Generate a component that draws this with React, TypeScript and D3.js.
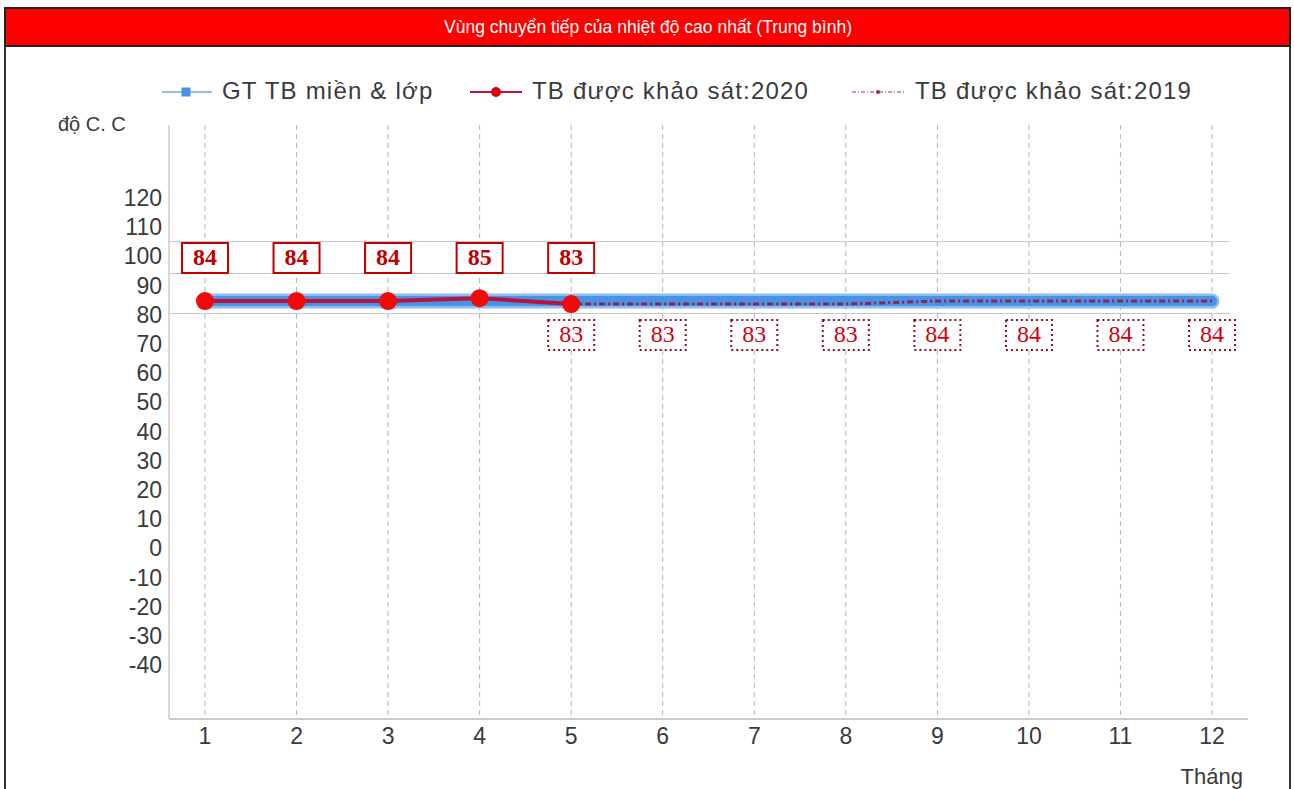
import React from "react";
import * as d3 from "d3";

const months = [1, 2, 3, 4, 5, 6, 7, 8, 9, 10, 11, 12];
const monthLabels = ["1", "2", "3", "4", "5", "6", "7", "8", "9", "10", "11", "12"];
const bandValues = [84, 84, 84, 84, 84, 84, 84, 84, 84, 84, 84, 84];
const months2020 = [1, 2, 3, 4, 5];
const values2020 = [84, 84, 84, 85, 83];
const months2019 = [5, 6, 7, 8, 9, 10, 11, 12];
const values2019 = [83, 83, 83, 83, 84, 84, 84, 84];
const yTicks = [120, 110, 100, 90, 80, 70, 60, 50, 40, 30, 20, 10, 0, -10, -20, -30, -40];
const refLines = [104.6, 93.5, 80];

const title = "Vùng chuyển tiếp của nhiệt độ cao nhất (Trung bình)";
const legendNames = ["GT TB miền & lớp", "TB được khảo sát:2020", "TB được khảo sát:2019"];
const yAxisTitle = "độ C. C";
const xAxisTitle = "Tháng";

const W = 1294;
const H = 789;
const plotLeft = 169;
const plotRight = 1248;
const plotTop = 125;
const plotBottom = 719;

const FONT = "'Liberation Sans', Arial, sans-serif";

export default function App() {
  const x = d3.scalePoint<number>().domain(months).range([plotLeft, plotRight]).padding(0.393);
  const y = d3.scaleLinear().domain([-59.1, 144.3]).range([plotBottom, plotTop]);

  const line = d3
    .line<[number, number]>()
    .x((d) => x(d[0]) as number)
    .y((d) => y(d[1]));

  const bandPts: [number, number][] = months.map((m, i) => [m, bandValues[i]]);
  const pts2020: [number, number][] = months2020.map((m, i) => [m, values2020[i]]);
  const pts2019: [number, number][] = months2019.map((m, i) => [m, values2019[i]]);

  const textCol = "#3a3a3a";
  const labelTop2020 = 243;
  const labelTop2019 = 320;
  const boxW = 46;
  const boxH = 30;

  return (
    <svg
      width={W}
      height={H}
      style={{ position: "absolute", left: 0, top: 0, background: "#fff" }}
      fontFamily={FONT}
    >
      {/* frame */}
      <rect x={5} y={8} width={1285} height={800} fill="#fff" stroke="#333" strokeWidth={2} />
      <rect x={5} y={8} width={1285} height={38} fill="#ff0000" stroke="#222" strokeWidth={2} />
      <text x={648} y={28} textAnchor="middle" dominantBaseline="middle" fill="#fff" fontSize={17.5} fontFamily={FONT}>
        {title}
      </text>

      {/* legend */}
      <g fontSize={24} fill={textCol} letterSpacing={1.2}>
        <line x1={162} x2={212} y1={92} y2={92} stroke="#7aa6d6" strokeWidth={1.5} />
        <rect x={181.5} y={87.5} width={9} height={9} fill="#4a90e2" />
        <text x={222} y={93} dominantBaseline="middle">{legendNames[0]}</text>

        <line x1={470} x2={522} y1={92} y2={92} stroke="#c0143c" strokeWidth={2} />
        <circle cx={496} cy={92} r={5} fill="#e00010" />
        <text x={532} y={93} dominantBaseline="middle">{legendNames[1]}</text>

        <line x1={852} x2={905} y1={92} y2={92} stroke="#9b2a55" strokeWidth={1} strokeDasharray="4,2,1,2" />
        <circle cx={878} cy={92} r={2} fill="#9b2a55" />
        <text x={915} y={93} dominantBaseline="middle">{legendNames[2]}</text>
      </g>

      <text x={58} y={126} dominantBaseline="middle" fontSize={20} fill={textCol}>{yAxisTitle}</text>

      {/* vertical dashed gridlines */}
      {months.map((m) => (
        <line key={"vg" + m} x1={x(m)} x2={x(m)} y1={plotTop} y2={plotBottom} stroke="#b4b4b4" strokeWidth={1} strokeDasharray="5,4" />
      ))}

      {/* reference lines */}
      {refLines.map((v) => (
        <line key={"rl" + v} x1={plotLeft} x2={1229} y1={Math.round(y(v)) + 0.5} y2={Math.round(y(v)) + 0.5} stroke="#c6c6c6" strokeWidth={1} />
      ))}

      {/* axes */}
      <line x1={plotLeft} x2={plotLeft} y1={plotTop} y2={plotBottom} stroke="#c0c0c0" strokeWidth={1.2} />
      <line x1={plotLeft} x2={plotRight} y1={plotBottom} y2={plotBottom} stroke="#b8b8b8" strokeWidth={1.5} />

      {/* y tick labels */}
      <g fontSize={23} fill={textCol} textAnchor="end">
        {yTicks.map((t) => (
          <text key={"yt" + t} x={162} y={y(t) + 4} dominantBaseline="middle">{t}</text>
        ))}
      </g>

      {/* x tick labels */}
      <g fontSize={23} fill={textCol} textAnchor="middle">
        {months.map((m, i) => (
          <text key={"xt" + m} x={x(m)} y={738} dominantBaseline="middle">{monthLabels[i]}</text>
        ))}
      </g>
      <text x={1243} y={778} textAnchor="end" dominantBaseline="middle" fontSize={22} fill={textCol}>{xAxisTitle}</text>

      {/* blue band series */}
      <path d={line(bandPts) || ""} fill="none" stroke="#8cbdf0" strokeWidth={15} strokeLinecap="round" strokeLinejoin="round" />
      <path d={line(bandPts) || ""} fill="none" stroke="#4a92e3" strokeWidth={10} strokeLinecap="round" strokeLinejoin="round" />

      {/* 2019 series */}
      <path d={line(pts2019) || ""} fill="none" stroke="#8e2456" strokeWidth={3} strokeDasharray="6,3,2,3" />

      {/* 2020 series */}
      <path d={line(pts2020) || ""} fill="none" stroke="#b8153e" strokeWidth={4} strokeLinejoin="round" />
      {pts2020.map((p) => (
        <circle key={"c" + p[0]} cx={x(p[0])} cy={y(p[1])} r={9} fill="#f00a0a" />
      ))}

      {/* 2020 labels */}
      {pts2020.map((p) => (
        <g key={"l20" + p[0]}>
          <rect x={(x(p[0]) as number) - boxW / 2} y={labelTop2020} width={boxW} height={boxH} fill="#fff" stroke="#c00000" strokeWidth={2} />
          <text x={x(p[0])} y={labelTop2020 + boxH / 2 + 1} textAnchor="middle" dominantBaseline="middle" fontSize={24} fill="#c00000" fontFamily="'Liberation Serif', serif" fontWeight="bold">
            {p[1]}
          </text>
        </g>
      ))}

      {/* 2019 labels */}
      {pts2019.map((p) => (
        <g key={"l19" + p[0]}>
          <rect x={(x(p[0]) as number) - boxW / 2} y={labelTop2019} width={boxW} height={boxH} fill="#fff" stroke="#8e1020" strokeWidth={2} strokeDasharray="2,3" />
          <text x={x(p[0])} y={labelTop2019 + boxH / 2 + 1} textAnchor="middle" dominantBaseline="middle" fontSize={24} fill="#d00010" fontFamily="'Liberation Serif', serif">
            {p[1]}
          </text>
        </g>
      ))}
    </svg>
  );
}
